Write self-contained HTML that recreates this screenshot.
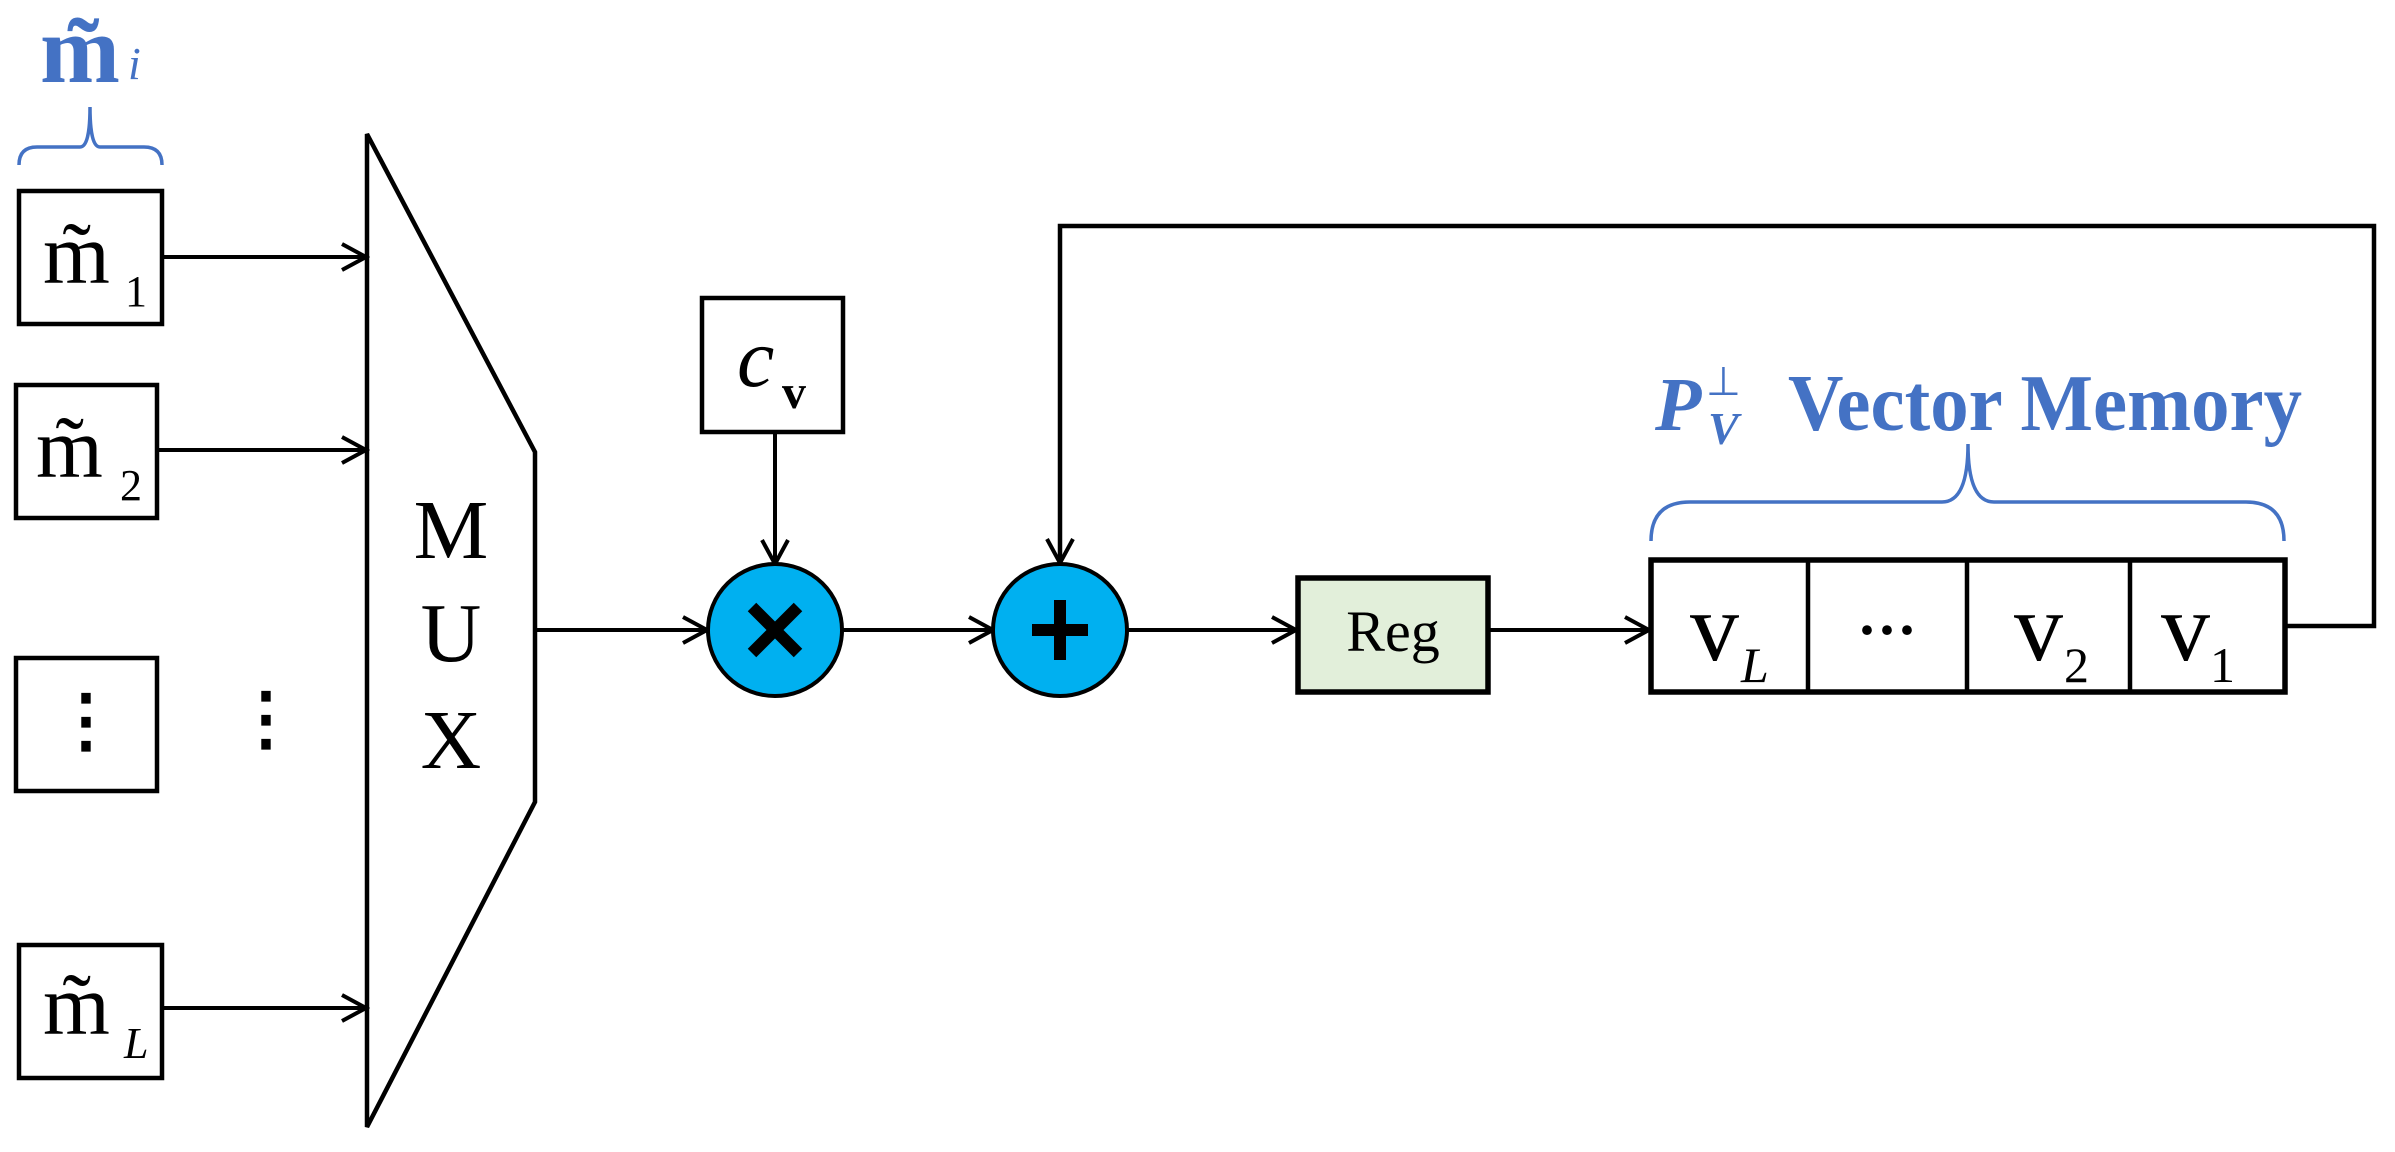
<!DOCTYPE html>
<html><head><meta charset="utf-8"><style>html,body{margin:0;padding:0;background:#fff}svg{display:block}</style></head>
<body>
<svg width="2395" height="1152" viewBox="0 0 2395 1152" xmlns="http://www.w3.org/2000/svg" font-family="'Liberation Serif', serif">
<defs>
<marker id="a" markerWidth="30" markerHeight="30" refX="26" refY="15" orient="auto" markerUnits="userSpaceOnUse">
<path d="M2,2 L26,15 L2,28" fill="none" stroke="#000" stroke-width="4"/>
</marker>
</defs>
<g fill="none" stroke="#000" stroke-width="4.5">
<rect x="19" y="191" width="143" height="133" fill="#fff"/>
<rect x="16" y="385" width="141" height="133" fill="#fff"/>
<rect x="16" y="658" width="141" height="133" fill="#fff"/>
<rect x="19" y="945" width="143" height="133" fill="#fff"/>
<polygon points="367,134 535,452 535,802 367,1127" fill="#fff"/>
<rect x="702" y="298" width="141" height="134" fill="#fff"/>
<rect x="1298" y="578" width="190" height="114" fill="#e2efda" stroke-width="5.5"/>
<rect x="1651" y="560" width="634" height="132" fill="#fff" stroke-width="5.5"/>
<line x1="1808" y1="560" x2="1808" y2="692"/>
<line x1="1967" y1="560" x2="1967" y2="692"/>
<line x1="2130" y1="560" x2="2130" y2="692"/>
</g>
<g stroke="#000" stroke-width="4" fill="none">
<line x1="162" y1="257" x2="366" y2="257" marker-end="url(#a)"/>
<line x1="157" y1="450" x2="366" y2="450" marker-end="url(#a)"/>
<line x1="162" y1="1008" x2="366" y2="1008" marker-end="url(#a)"/>
<line x1="535" y1="630" x2="707" y2="630" marker-end="url(#a)"/>
<line x1="775" y1="432" x2="775" y2="564" marker-end="url(#a)"/>
<line x1="842" y1="630" x2="993" y2="630" marker-end="url(#a)"/>
<line x1="1127" y1="630" x2="1296" y2="630" marker-end="url(#a)"/>
<line x1="1489" y1="630" x2="1649" y2="630" marker-end="url(#a)"/>
<polyline points="2287,626 2374,626 2374,226 1060,226 1060,563" stroke-width="4.5" marker-end="url(#a)"/>
</g>
<ellipse cx="775" cy="630" rx="67" ry="66" fill="#00b0f0" stroke="#000" stroke-width="4"/>
<ellipse cx="1060" cy="630" rx="67" ry="66" fill="#00b0f0" stroke="#000" stroke-width="4"/>
<g stroke="#000" stroke-width="12" stroke-linecap="butt">
<line x1="752" y1="607" x2="798" y2="653"/><line x1="798" y1="607" x2="752" y2="653"/>
<line x1="1060" y1="600" x2="1060" y2="660"/><line x1="1032" y1="630" x2="1088" y2="630"/>
</g>
<g fill="none" stroke="#4472c4" stroke-width="3.5">
<path d="M19,165 Q19,147 37,147 L80,147 Q90,147 90,107 Q90,147 100,147 L144,147 Q162,147 162,165"/>
<path d="M1651,541 Q1651,502 1690,502 L1942,502 Q1968,502 1968,444 Q1968,502 1994,502 L2246,502 Q2284,502 2284,541"/>
</g>
<g fill="#4472c4" font-weight="bold">
<text x="40" y="82" font-size="96">m̃</text>
<text x="128" y="79" font-size="46" font-style="italic" font-weight="normal">i</text>
<text x="1655" y="430" font-size="76" font-style="italic">P</text>
<text x="1706" y="395" font-size="40" font-weight="normal">⊥</text>
<text x="1708" y="444" font-size="46" font-style="italic">V</text>
<text x="1788" y="430" font-size="80" textLength="514" lengthAdjust="spacingAndGlyphs">Vector Memory</text>
</g>
<g fill="#000">
<text x="43" y="283" font-size="86">m̃</text><text x="125" y="306" font-size="44">1</text>
<text x="36" y="477" font-size="86">m̃</text><text x="120" y="500" font-size="44">2</text>
<text x="43" y="1034" font-size="86">m̃</text><text x="124" y="1058" font-size="44" font-style="italic">L</text>
<text x="86" y="744" font-size="70" text-anchor="middle" font-weight="bold">⋮</text>
<text x="266" y="742" font-size="70" text-anchor="middle" font-weight="bold">⋮</text>
<text x="451" y="558" font-size="84" text-anchor="middle">M</text>
<text x="451" y="661" font-size="84" text-anchor="middle">U</text>
<text x="451" y="768" font-size="84" text-anchor="middle">X</text>
<text x="737" y="386" font-size="84" font-style="italic">c</text>
<text x="782" y="408" font-size="48" font-weight="bold">v</text>
<text x="1393" y="651" font-size="58" text-anchor="middle">Reg</text>
<text x="1690" y="660" font-size="98">v</text><text x="1741" y="682" font-size="50" font-style="italic">L</text>
<text x="1887" y="650" font-size="60" text-anchor="middle" font-weight="bold">···</text>
<text x="2014" y="660" font-size="98">v</text><text x="2064" y="682" font-size="50">2</text>
<text x="2161" y="660" font-size="98">v</text><text x="2210" y="682" font-size="50">1</text>
</g>
</svg>
</body></html>
